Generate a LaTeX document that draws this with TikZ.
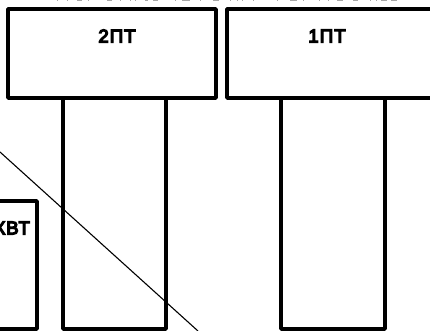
\documentclass[tikz,border=0pt]{standalone}
\usepackage{fontspec}
\setmainfont{Liberation Sans}
\newfontfamily\cadfont{Liberation Sans}[FakeBold=7,LetterSpace=6]
\tikzset{
  x=1pt,y=-1pt,
  frame/.style={draw=black,line width=3.4pt,line join=round,fill=white},
  cut/.style={draw=black,line width=1.1pt},
  faint/.style={fill=black!35,draw=none},
  lbl/.style={font=\fontsize{18.5}{19}\cadfont,inner sep=0pt,text=black}
}
\begin{document}
\begin{tikzpicture}
\useasboundingbox (0,0) rectangle (430,331);
\clip (0,0) rectangle (430,331);
\fill[white] (0,0) rectangle (430,331);
\foreach \a/\b in {57/58,67/68,77/82,88/89,107/112,120/121,130/131,135/136,145/148,153/158,175/176,182/190,200/201,213/219,230/231,237/238,242/243,253/254,277/278,290/297,303/304,319/320,328/329,337/343,353/358,370/371,376/377,381/387,391/397}
  \fill[faint] (\a,0) rectangle (\b,1.5);
\draw[frame] (63,98) rectangle (166,329);
\draw[frame] (281,98) rectangle (385,329);
\draw[frame] (8,9) rectangle (216,98);
\draw[frame] (227,9) rectangle (445,98);
\draw[frame] (-20,201) rectangle (37,329);
\node[lbl] (a) at (117,36) {2ПТ};
\node[lbl] (b) at (327,36) {1ПТ};
\node[lbl,anchor=east] (c) at (30,228) {КВТ};
\coordinate (p) at (0,152);
\coordinate (q) at (198,331);
\draw[cut] (p) -- (q);
\end{tikzpicture}
\end{document}
